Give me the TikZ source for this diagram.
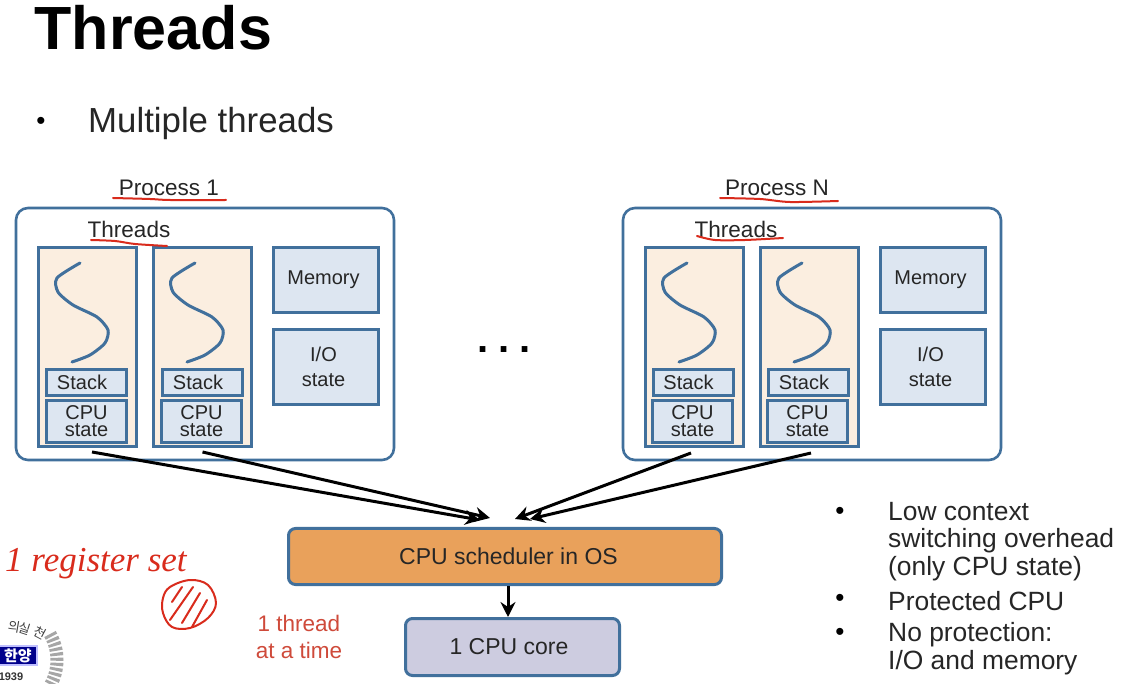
\documentclass[tikz,border=0pt]{standalone}
\usepackage{fontspec}
\setmainfont{Liberation Sans}
\newfontfamily\hanfont{Noto Sans CJK KR}
\newfontfamily\inkfont{Liberation Serif}
\usetikzlibrary{arrows.meta}
\definecolor{edgeblue}{HTML}{41709C}
\definecolor{threadfill}{HTML}{FBEEE0}
\definecolor{partfill}{HTML}{DDE6F1}
\definecolor{schedfill}{HTML}{E9A15B}
\definecolor{corefill}{HTML}{CDCCE0}
\definecolor{inkred}{HTML}{D92B1C}
\definecolor{textred}{HTML}{CF4A3A}
\newcommand{\fz}[2]{\fontsize{#1}{#2}\selectfont}
\tikzset{
  blk/.style    = {draw=edgeblue, line width=2.6pt, align=center, inner sep=0pt, text=black!85},
  proc/.style   = {blk, fill=white, rounded corners=12pt, minimum width=378pt, minimum height=252pt},
  thrd/.style   = {blk, fill=threadfill, line width=3pt, minimum width=98pt, minimum height=199pt},
  stck/.style   = {blk, fill=partfill, line width=3pt, minimum width=80pt, minimum height=26pt, font=\fz{20}{20}},
  cpust/.style  = {blk, fill=partfill, line width=3pt, minimum width=80pt, minimum height=42pt, font=\fz{20}{17}},
  mem/.style    = {blk, fill=partfill, line width=3pt, minimum width=105pt, font=\fz{20}{25}},
  lbl/.style    = {inner sep=0pt, text=black!85, font=\fz{22.5}{25}},
  bul/.style    = {inner sep=0pt, anchor=west, align=left, text=black!85, font=\fz{26.4}{27.5}},
  dotmark/.style= {inner sep=0pt, font=\fz{26}{26}},
  ar/.style     = {-{Stealth[length=15pt,width=15pt,inset=5pt]}, line width=3pt, black},
  ink/.style    = {inkred, line width=2pt, line cap=round, line join=round},
  thrline/.style= {edgeblue, line width=3pt, line cap=round, line join=round},
  sealch/.style = {inner sep=0pt, text=black!75, font=\fz{13}{13}\hanfont},
}
\begin{document}
\begin{tikzpicture}[x=1pt, y=-1pt]
\clip (0,0) rectangle (1136,684);
\fill[white] (0,0) rectangle (1136,684);

% --- heading ---
\node[inner sep=0pt, anchor=base west, font=\fz{61}{60}\bfseries] (title) at (34.5,50) {Threads};
\node[dotmark] (topdot) at (41,123) {•};
\node[inner sep=0pt, anchor=west, text=black!85, font=\fz{34.8}{36}] (topline) at (88,124) {Multiple threads};

% --- process 1 ---
\node[lbl] (p1lab) at (169,188) {Process 1};
\node[proc] (p1) at (205,334) {};
\node[lbl] (p1thr) at (129,229) {Threads};
\node[thrd] (p1a) at (87.5,347) {};
\node[thrd] (p1b) at (202.5,347) {};
\node[stck] (p1as) at (86.5,382.5) {Stack\hspace*{9pt}};
\node[cpust] (p1ac) at (86.5,421.5) {CPU\\state};
\node[stck] (p1bs) at (202.5,382.5) {Stack\hspace*{9pt}};
\node[cpust] (p1bc) at (201.5,421.5) {CPU\\state};
\node[mem, minimum height=65pt] (p1m) at (325.5,280) {Memory\hspace*{4pt}};
\node[mem, minimum height=75pt] (p1io) at (325.5,367) {I/O\hspace*{4pt}\\state\hspace*{4pt}};

% --- process N ---
\node[lbl] (pnlab) at (777,188) {Process N};
\node[proc] (pn) at (812,334) {};
\node[lbl] (pnthr) at (736,229) {Threads};
\node[thrd] (pna) at (694.5,347) {};
\node[thrd] (pnb) at (809.5,347) {};
\node[stck] (pnas) at (693,382.5) {Stack\hspace*{9pt}};
\node[cpust] (pnac) at (692.5,421.5) {CPU\\state};
\node[stck] (pnbs) at (808.5,382.5) {Stack\hspace*{9pt}};
\node[cpust] (pnbc) at (807.5,421.5) {CPU\\state};
\node[mem, minimum height=65pt] (pnm) at (932.5,280) {Memory\hspace*{4pt}};
\node[mem, minimum height=75pt] (pnio) at (932.5,367) {I/O\hspace*{4pt}\\state\hspace*{4pt}};

\foreach \xa in {38,153,645,760}
  \draw[thrline, xshift=\xa pt] plot[smooth, tension=0.45] coordinates
    {(42,263) (19,278) (20,292) (35,305) (59,317) (70,330) (67,343) (52,355) (34,362)};

\node[inner sep=0pt, font=\fz{40}{40}\bfseries] (gap) at (504,350) {.\hspace{10pt}.\hspace{10pt}.};

% --- scheduler and core ---
\node[blk, fill=schedfill, rounded corners=7pt, line width=3pt, minimum width=433pt, minimum height=56pt, font=\fz{23}{25}] (sched) at (505,556.5) {\hspace*{7pt}CPU scheduler in OS};
\node[blk, fill=corefill, rounded corners=7pt, line width=3pt, minimum width=214pt, minimum height=57pt, font=\fz{23}{25}] (core) at (512.5,647) {1 CPU core\hspace*{7pt}};

\draw[ar] ([xshift=4.5pt,yshift=-4pt]p1a.south) -- ([xshift=-25pt,yshift=7pt]sched.north);
\draw[ar] ([yshift=-4pt]p1b.south) -- ([xshift=-15pt,yshift=9pt]sched.north);
\draw[ar] ([xshift=-3.5pt,yshift=-5pt]pna.south) -- ([xshift=10pt,yshift=8pt]sched.north);
\draw[ar] ([xshift=1.5pt,yshift=-5pt]pnb.south) -- ([xshift=25pt,yshift=8pt]sched.north);
\draw[ar] ([xshift=3pt]sched.south) -- ([xshift=-4.5pt]core.north);

% --- bullets on the right ---
\foreach \yb/\nm in {513/a,600/b,634/c}
  \node[dotmark] (dot\nm) at (840,\yb) {•};
\node[bul] (lowctx) at (888,541.5) {Low context\\switching overhead\\(only CPU state)};
\node[bul] (prot) at (888,601) {Protected CPU};
\node[bul] (noprot) at (888,648.5) {No protection:\\I/O and memory};

% --- red notes ---
\node[inner sep=0pt, align=center, text=textred, font=\fz{22.5}{27}] (onethr) at (299,637) {1 thread\\at a time};
\node[inner sep=0pt, anchor=base west, text=inkred, font=\fz{35}{35}\inkfont\itshape] (regset) at (5,572) {1 register set};

\draw[ink] plot[smooth cycle, tension=0.6] coordinates
  {(163,598) (170,587) (190,580) (208,585) (216,603) (208,618) (190,628) (172,627) (163,613)};
\draw[ink] (172,602) -- (182,587);
\draw[ink] (170,620) -- (193,587);
\draw[ink] (182,623) -- (200,593);
\draw[ink] (192,627) -- (207,600);

\draw[ink] plot[smooth] coordinates {(113,198) (150,199) (170,200) (226,200)};
\draw[ink] plot[smooth] coordinates {(91,240) (115,241) (135,244) (167,246)};
\draw[ink] plot[smooth] coordinates {(720,198) (760,199) (790,202) (838,201)};
\draw[ink] plot[smooth] coordinates {(697,236) (715,240) (745,240) (783,238)};

% --- seal in the corner ---
\draw[black!35, line width=13pt, dash pattern=on 3pt off 2pt] (5,660) ++(-30:52) arc[start angle=-30, end angle=30, radius=52];
\node[sealch, rotate=-10] (sealc) at (14,627) {의};
\node[sealch, rotate=-18] (seald) at (25,629) {실};
\node[sealch, rotate=-28] (seale) at (40,633) {천};
\node[draw=blue!25, line width=1.5pt, fill=blue!55!black, text=white, minimum width=38pt, minimum height=19pt, inner sep=0pt, font=\fz{15}{15}\hanfont\bfseries] (sealname) at (18,655.5) {한양};
\node[inner sep=0pt, text=black!80, font=\fz{11}{11}\bfseries] (sealyear) at (11,677) {1939};
\end{tikzpicture}
\end{document}
